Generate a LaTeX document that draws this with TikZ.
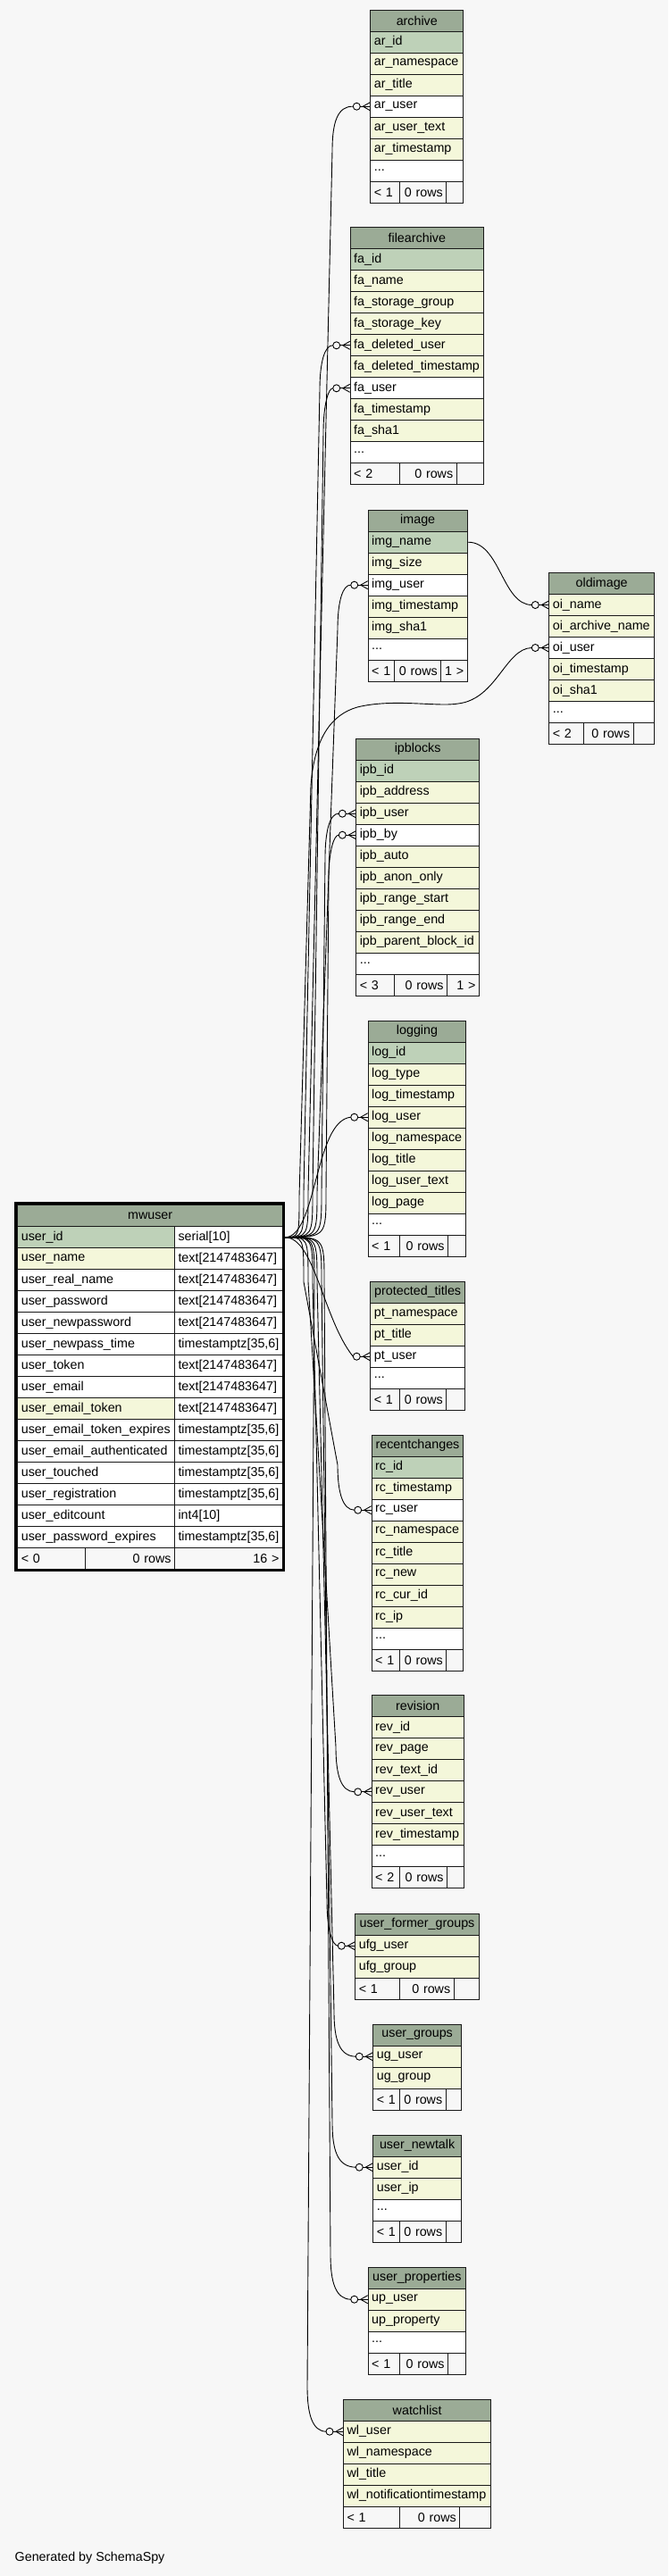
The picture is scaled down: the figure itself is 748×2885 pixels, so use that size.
\documentclass[tikz,border=0pt]{standalone}
\usepackage{fontspec}
\setmainfont{Liberation Sans}
\definecolor{bgc}{HTML}{F7F7F7}
\definecolor{hdrc}{HTML}{9BAB96}
\definecolor{pkc}{HTML}{BED1B8}
\definecolor{colc}{HTML}{F4F7DA}
\newcommand\tdots{...}
\tikzset{
  cell/.style={draw=black!90, line width=1pt, inner xsep=4pt, inner ysep=0pt,
    minimum height=24pt, anchor=north west, font=\fontsize{14.3}{17}\selectfont, text=black},
  rel/.style={draw=black, line width=0.9pt},
}
\newcommand\dbtable[6]{%
  \pgfmathsetmacro\tbltw{#4-8}%
  \node[cell,fill=hdrc,align=center,minimum width=#4pt,text width=\tbltw pt] (#1-0) at (#2,#3) {#5};
  \foreach \rc/\rt [count=\ri] in {#6} {%
    \node[cell,fill=\rc,align=left,minimum width=#4pt,text width=\tbltw pt] (#1-\ri) at (#2,#3+24*\ri) {\rt};
  }%
}
\newcommand\dbfoot[9]{%
  \pgfmathsetmacro\fwa{#4-#3}\pgfmathsetmacro\fwb{#5-#4}\pgfmathsetmacro\fwc{#6-#5}%
  \pgfmathsetmacro\fta{#4-#3-8}\pgfmathsetmacro\ftb{#5-#4-8}\pgfmathsetmacro\ftc{#6-#5-8}%
  \node[cell,fill=bgc,align=left,minimum width=\fwa pt,text width=\fta pt] (#1-fa) at (#3,#2) {#7};
  \node[cell,fill=bgc,align=right,minimum width=\fwb pt,text width=\ftb pt] (#1-fb) at (#4,#2) {#8};
  \node[cell,fill=bgc,align=right,minimum width=\fwc pt,text width=\ftc pt] (#1-fc) at (#5,#2) {#9};
}
\newcommand\crowfoot[1]{%
  \draw[rel,fill=bgc] ([xshift=-15pt]#1.west) circle[radius=4pt];
  \draw[rel] ([xshift=-11pt]#1.west) -- (#1.west);
  \draw[rel] ([xshift=-8pt]#1.west) -- ([yshift=4.5pt]#1.west);
  \draw[rel] ([xshift=-8pt]#1.west) -- ([yshift=-4.5pt]#1.west);
}
\newcommand\uplink[4]{%
  \draw[rel] (src) .. controls (#2,1385.3) and (#2,1385.3) .. (#2,1335) -- (#3,#4+50)
    .. controls (#3,#4+18) and (#3+6,#4) .. ([xshift=-19pt]#1.west);
  \crowfoot{#1}}
\newcommand\downlink[4]{%
  \draw[rel] (src) .. controls (#2,1385.3) and (#2,1385.3) .. (#2,1435.6) -- (#3,#4-50)
    .. controls (#3,#4-18) and (#3+6,#4) .. ([xshift=-19pt]#1.west);
  \crowfoot{#1}}
\begin{document}
\begin{tikzpicture}[x=1pt,y=-1pt]
\fill[bgc] (0,0) rectangle (748,2885);
\useasboundingbox (0,0) rectangle (748,2885);

% archive
\dbtable{archive}{414.3}{10.7}{104}{archive}{pkc/ar\_id,colc/ar\_namespace,colc/ar\_title,white/ar\_user,colc/ar\_user\_text,colc/ar\_timestamp,white/\tdots}
\dbfoot{archive}{202.7}{414.3}{446.7}{499.3}{518.3}{< 1}{0 rows}{}
% filearchive
\dbtable{filearchive}{391.7}{254.3}{149.3}{filearchive}{pkc/fa\_id,colc/fa\_name,colc/fa\_storage\_group,colc/fa\_storage\_key,colc/fa\_deleted\_user,colc/fa\_deleted\_timestamp,white/fa\_user,colc/fa\_timestamp,colc/fa\_sha1,white/\tdots}
\dbfoot{filearchive}{518.3}{391.7}{446.7}{510.7}{541}{< 2}{0 rows}{}
% image
\dbtable{image}{411.7}{570.7}{111}{image}{pkc/img\_name,colc/img\_size,white/img\_user,colc/img\_timestamp,colc/img\_sha1,white/\tdots}
\dbfoot{image}{738.7}{411.7}{441}{493.3}{522.7}{< 1}{0 rows}{1 >}
% oldimage
\dbtable{oldimage}{614.3}{641}{117.7}{oldimage}{colc/oi\_name,colc/oi\_archive\_name,white/oi\_user,colc/oi\_timestamp,colc/oi\_sha1,white/\tdots}
\dbfoot{oldimage}{809}{614.3}{652.7}{708.7}{732}{< 2}{0 rows}{}
% ipblocks
\dbtable{ipblocks}{398.3}{826.7}{137.7}{ipblocks}{pkc/ipb\_id,colc/ipb\_address,colc/ipb\_user,white/ipb\_by,colc/ipb\_auto,colc/ipb\_anon\_only,colc/ipb\_range\_start,colc/ipb\_range\_end,colc/ipb\_parent\_block\_id,white/\tdots}
\dbfoot{ipblocks}{1090.7}{398.3}{441}{500}{536}{< 3}{0 rows}{1 >}
% logging
\dbtable{logging}{411.7}{1142.7}{109.6}{logging}{pkc/log\_id,colc/log\_type,colc/log\_timestamp,colc/log\_user,colc/log\_namespace,colc/log\_title,colc/log\_user\_text,colc/log\_page,white/\tdots}
\dbfoot{logging}{1382.7}{411.7}{446.7}{501}{521.3}{< 1}{0 rows}{}
% protected_titles
\dbtable{ptitles}{414.3}{1434.7}{105.7}{protected\_titles}{colc/pt\_namespace,colc/pt\_title,white/pt\_user,white/\tdots}
\dbfoot{ptitles}{1554.7}{414.3}{446.7}{499.3}{520}{< 1}{0 rows}{}
% recentchanges
\dbtable{rchanges}{415.7}{1606.7}{102.6}{recentchanges}{pkc/rc\_id,colc/rc\_timestamp,white/rc\_user,colc/rc\_namespace,colc/rc\_title,colc/rc\_new,colc/rc\_cur\_id,colc/rc\_ip,white/\tdots}
\dbfoot{rchanges}{1846.7}{415.7}{446.7}{499.3}{518.3}{< 1}{0 rows}{}
% revision
\dbtable{revision}{415.7}{1898.3}{103}{revision}{colc/rev\_id,colc/rev\_page,colc/rev\_text\_id,colc/rev\_user,colc/rev\_user\_text,colc/rev\_timestamp,white/\tdots}
\dbfoot{revision}{2090.3}{415.7}{446.7}{500}{518.7}{< 2}{0 rows}{}
% user_former_groups
\dbtable{ufgroups}{397.3}{2142.7}{138.4}{user\_former\_groups}{colc/ufg\_user,colc/ufg\_group}
\dbfoot{ufgroups}{2214.7}{397.3}{446.7}{507.7}{535.7}{< 1}{0 rows}{}
% user_groups
\dbtable{ugroups}{417.3}{2266.7}{98.7}{user\_groups}{colc/ug\_user,colc/ug\_group}
\dbfoot{ugroups}{2338.7}{417.3}{446.7}{498.7}{516}{< 1}{0 rows}{}
% user_newtalk
\dbtable{unewtalk}{417.3}{2390.7}{98.7}{user\_newtalk}{colc/user\_id,colc/user\_ip,white/\tdots}
\dbfoot{unewtalk}{2486.7}{417.3}{446.7}{498.7}{516}{< 1}{0 rows}{}
% user_properties
\dbtable{uprops}{411.7}{2538.7}{109.3}{user\_properties}{colc/up\_user,colc/up\_property,white/\tdots}
\dbfoot{uprops}{2634.7}{411.7}{446.7}{501}{521}{< 1}{0 rows}{}
% watchlist
\dbtable{watchlist}{384}{2686.7}{165.3}{watchlist}{colc/wl\_user,colc/wl\_namespace,colc/wl\_title,colc/wl\_notificationtimestamp}
\dbfoot{watchlist}{2806.7}{384}{446.7}{514.3}{549.3}{< 1}{0 rows}{}

% mwuser
\node[cell,fill=hdrc,align=center,minimum width=296.7pt,text width=288.7pt] (mwuser-0) at (19.3,1349.3) {mwuser};
\foreach \ca/\ta/\tb [count=\ri] in {
  pkc/user\_id/serial[10],
  colc/user\_name/text[2147483647],
  white/user\_real\_name/text[2147483647],
  white/user\_password/text[2147483647],
  white/user\_newpassword/text[2147483647],
  white/user\_newpass\_time/{timestamptz[35,6]},
  white/user\_token/text[2147483647],
  white/user\_email/text[2147483647],
  colc/user\_email\_token/text[2147483647],
  white/user\_email\_token\_expires/{timestamptz[35,6]},
  white/user\_email\_authenticated/{timestamptz[35,6]},
  white/user\_touched/{timestamptz[35,6]},
  white/user\_registration/{timestamptz[35,6]},
  white/user\_editcount/int4[10],
  white/user\_password\_expires/{timestamptz[35,6]}} {
  \node[cell,fill=\ca,align=left,minimum width=175.7pt,text width=167.7pt] (mwuser-\ri) at (19.3,1349.3+24*\ri) {\ta};
  \node[cell,fill=white,align=left,minimum width=121pt,text width=113pt] (mwuserT-\ri) at (195,1349.3+24*\ri) {\tb};
}
\dbfoot{mwuser}{1733.3}{19.3}{95}{195}{316}{< 0}{0 rows}{16 >}
\draw[line width=3pt] (17.8,1347.8) rectangle (317.5,1758.8);

\coordinate (src) at ([xshift=2pt]mwuserT-1.east);

% relationships
\uplink{archive-4}{345}{372}{118.7}
\uplink{filearchive-5}{340}{358}{386.3}
\uplink{filearchive-7}{350}{362}{434.3}
\uplink{image-3}{355}{378}{654.7}
\uplink{ipblocks-3}{360}{364}{910.7}
\uplink{ipblocks-4}{365}{368}{934.7}
\draw[rel] (src) .. controls (355,1385.3) and (352,1255) .. ([xshift=-19pt]logging-4.west);
\crowfoot{logging-4}
\draw[rel] (src) .. controls (335,1385.3) and (335,1385.3) .. (335,1340) -- (348,880)
  .. controls (352,825) and (372,800) .. (400,792)
  .. controls (440,782) and (490,792) .. (513,788)
  .. controls (556,783) and (566,726) .. ([xshift=-19pt]oldimage-3.west);
\crowfoot{oldimage-3}
\draw[rel] (image-1.east) .. controls (560,606.7) and (562,677) .. ([xshift=-19pt]oldimage-1.west);
\crowfoot{oldimage-1}
\draw[rel] (src) .. controls (352,1385.3) and (362,1478) .. ([xshift=-19pt]ptitles-3.west);
\crowfoot{ptitles-3}
\downlink{rchanges-3}{340}{378}{1690.7}
\downlink{revision-4}{345}{376}{2006.3}
\downlink{ufgroups-1}{350}{366}{2178.7}
\downlink{ugroups-1}{355}{374}{2302.7}
\downlink{unewtalk-1}{360}{372}{2426.7}
\downlink{uprops-1}{363}{370}{2574.7}
\downlink{watchlist-1}{352}{344}{2722.7}

\node[anchor=west,inner sep=0pt,font=\fontsize{14.3}{17}\selectfont] (gen) at (16.5,2865) {Generated by SchemaSpy};
\end{tikzpicture}
\end{document}
